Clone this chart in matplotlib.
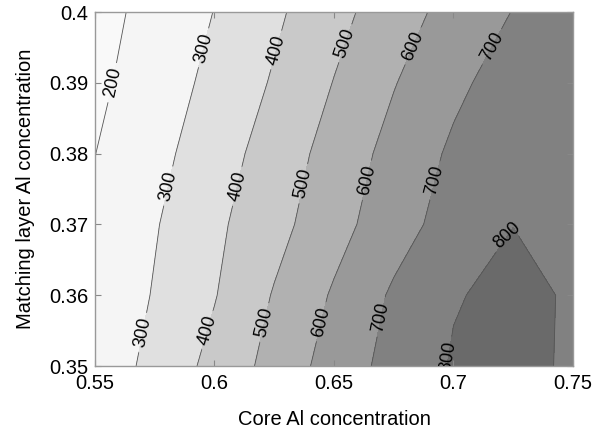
import matplotlib
matplotlib.use("Agg")
import matplotlib.pyplot as plt
import numpy as np
from matplotlib.ticker import FuncFormatter

plt.rcParams["font.family"] = ["Liberation Sans", "DejaVu Sans"]

# grid
core_al = [0.55, 0.575, 0.6, 0.625, 0.65, 0.675, 0.7, 0.725, 0.75]
match_al = [0.35, 0.36, 0.37, 0.38, 0.39, 0.40]
values = [
    [234, 330, 429, 535, 642, 735, 808, 825, 788],
    [219, 307, 395, 507, 611, 714, 794, 822, 791],
    [210, 293, 380, 467, 564, 658, 742, 799, 787],
    [199, 271, 354, 444, 538, 633, 716, 765, 775],
    [179, 250, 325, 410, 503, 595, 679, 745, 760],
    [165, 232, 302, 382, 468, 555, 634, 703, 745],
]
levels = [100, 200, 300, 400, 500, 600, 700, 800, 900]
line_levels = [200, 300, 400, 500, 600, 700, 800]
fill_grays = [249, 245, 224, 201, 177, 153, 129, 106]

label_spots = [
    (0.5575, 0.390),
    (0.5960, 0.3949), (0.5822, 0.3753), (0.5688, 0.3548),
    (0.6262, 0.3946), (0.6107, 0.3753), (0.5969, 0.3551),
    (0.6546, 0.3956), (0.6366, 0.3758), (0.6211, 0.3561),
    (0.6826, 0.3953), (0.6630, 0.3763), (0.6454, 0.3562),
    (0.7161, 0.3951), (0.6910, 0.3763), (0.6701, 0.3569),
    (0.7228, 0.3684), (0.6935, 0.3516),
]

x_ticks = [0.55, 0.6, 0.65, 0.7, 0.75]
y_ticks = [0.35, 0.36, 0.37, 0.38, 0.39, 0.4]


def main():
    fig = plt.figure(figsize=(6.05, 4.30), dpi=100)
    ax = fig.add_axes([95 / 605, 1 - 366 / 430, 478 / 605, 354 / 430])

    X, Y = np.meshgrid(core_al, match_al)
    Z = np.array(values, dtype=float)
    colors = [(g / 255, g / 255, g / 255) for g in fill_grays]

    ax.contourf(X, Y, Z, levels=levels, colors=colors)
    cs = ax.contour(X, Y, Z, levels=line_levels, colors="#555555", linewidths=0.6)
    ax.clabel(cs, manual=label_spots, inline=True, fmt="%d", fontsize=13, colors="black")

    ax.set_xlim(0.55, 0.75)
    ax.set_ylim(0.35, 0.4)
    ax.set_xticks(x_ticks)
    ax.set_yticks(y_ticks)
    fmt = FuncFormatter(lambda v, p: "%g" % round(v, 3))
    ax.xaxis.set_major_formatter(fmt)
    ax.yaxis.set_major_formatter(fmt)
    ax.tick_params(direction="in", length=4, width=0.8, color="#888888",
                   labelsize=14.5, top=True, right=True)
    ax.tick_params(axis="x", pad=6)
    ax.tick_params(axis="y", pad=5)
    for spine in ax.spines.values():
        spine.set_color("#999999")
        spine.set_linewidth(1.0)

    ax.set_xlabel("Core Al concentration", fontsize=14.5, labelpad=12)
    ax.set_ylabel("Matching layer Al concentration", fontsize=14.5, labelpad=10)

    fig.savefig("out.png", dpi=100)
    plt.close(fig)


if __name__ == "__main__":
    main()
